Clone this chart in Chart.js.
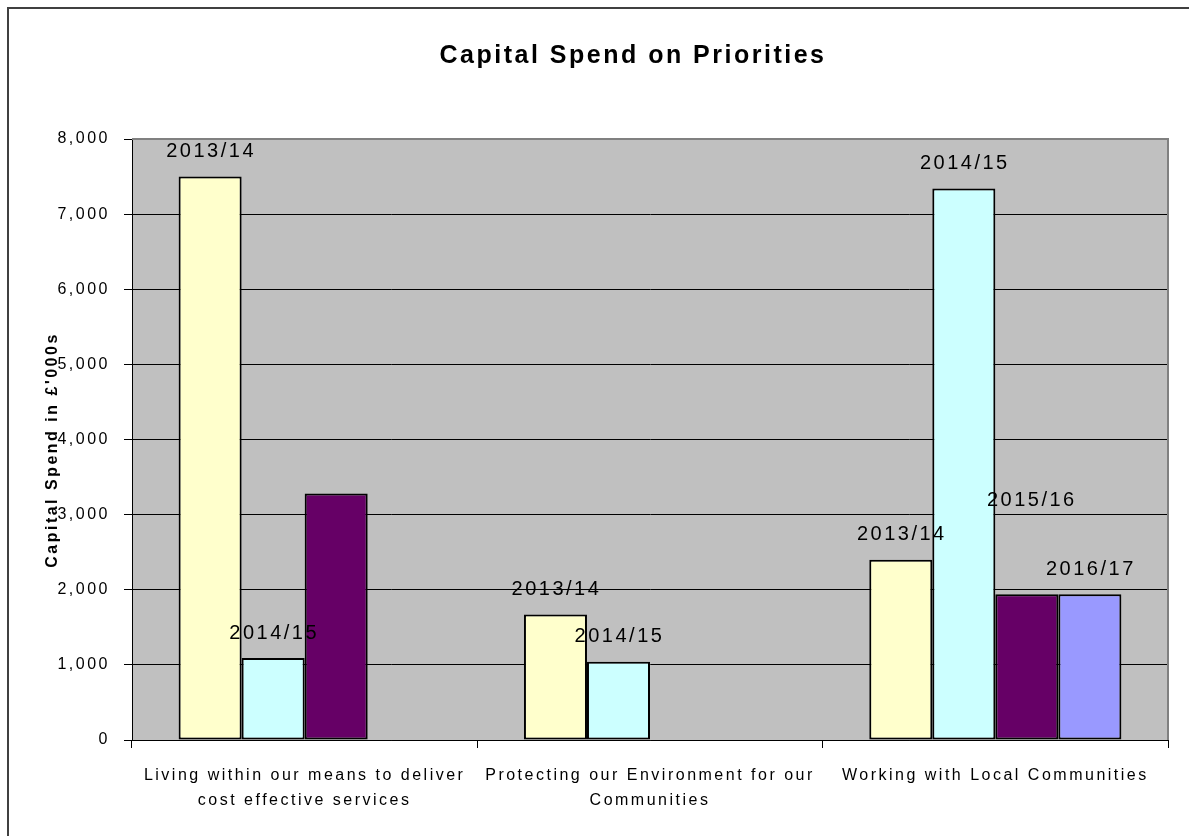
<!DOCTYPE html>
<html><head><meta charset="utf-8">
<script src="https://cdn.jsdelivr.net/npm/chart.js@4.4.1/dist/chart.umd.min.js"></script>
<style>html,body{margin:0;padding:0;background:#fff;overflow:hidden}</style>
</head><body>
<canvas id="c" width="1189" height="836" style="display:block;width:1189px;height:836px"></canvas>
<script>
// ---- data ----
const categories = [
  ['Living within our means to deliver', 'cost effective services'],
  ['Protecting our Environment for our', 'Communities'],
  ['Working with Local Communities']
];
const seriesNames = ['2013/14', '2014/15', '2015/16', '2016/17'];
const spend201314 = [7500, 1670, 2400];
const spend201415 = [1090, 1040, 7340];
const spend201516 = [3280, null, 1940];
const spend201617 = [null, null, 1940];
const yTickValues = [0, 1000, 2000, 3000, 4000, 5000, 6000, 7000, 8000];
const chartTitle = 'Capital Spend on Priorities';
const yAxisTitle = "Capital Spend in £'000s";

// ---- style ----
const FONT = "'Liberation Sans', Arial, sans-serif";
const colors = ['#FFFFCC', '#CCFFFF', '#660066', '#9999FF'];
const seriesValues = [spend201314, spend201415, spend201516, spend201617];

const excelPlugin = {
  id: 'excelLook',
  beforeDraw(chart) {
    const ctx = chart.ctx;
    ctx.letterSpacing = '2.5px';
    const a = chart.chartArea;
    ctx.save();
    ctx.fillStyle = '#C0C0C0';
    ctx.fillRect(a.left, a.top, a.right - a.left, a.bottom - a.top);
    ctx.restore();
  },
  afterDatasetsDraw(chart, args, opts) {
    const ctx = chart.ctx;
    const a = chart.chartArea;
    // plot-area border (top / right)
    ctx.save();
    ctx.strokeStyle = '#808080';
    ctx.lineWidth = 2;
    ctx.beginPath();
    ctx.moveTo(a.left, a.top);
    ctx.lineTo(a.right, a.top);
    ctx.lineTo(a.right, a.bottom);
    ctx.stroke();
    ctx.restore();
    // data labels (series names)
    ctx.save();
    ctx.font = '20px ' + FONT;
    ctx.fillStyle = '#000';
    ctx.textAlign = 'center';
    ctx.textBaseline = 'middle';
    chart.data.datasets.forEach((ds, di) => {
      const meta = chart.getDatasetMeta(di);
      meta.data.forEach((el, i) => {
        const v = ds.data[i];
        if (v === null || v === undefined) return;
        const key = di + '-' + i;
        if (opts.hidden.includes(key)) return;
        const off = opts.offsets[key] || [0, 0];
        ctx.fillText(ds.label, el.x + 1 + off[0], el.y - 25 + off[1]);
      });
    });
    ctx.restore();
  },
  afterDraw(chart, args, opts) {
    const ctx = chart.ctx;
    ctx.save();
    // chart title
    ctx.fillStyle = '#000';
    ctx.font = 'bold 25px ' + FONT;
    ctx.textAlign = 'center';
    ctx.textBaseline = 'alphabetic';
    ctx.fillText(chartTitle, 633, 63);
    // y-axis title
    ctx.font = 'bold 16px ' + FONT;
    ctx.translate(57, 450);
    ctx.rotate(-Math.PI / 2);
    ctx.fillText(yAxisTitle, 0, 0);
    ctx.restore();
    // outer chart border
    ctx.save();
    ctx.strokeStyle = '#404040';
    ctx.lineWidth = 2;
    ctx.beginPath();
    ctx.moveTo(8, 840);
    ctx.lineTo(8, 8);
    ctx.lineTo(1195, 8);
    ctx.stroke();
    ctx.restore();
  }
};

new Chart(document.getElementById('c'), {
  type: 'bar',
  data: {
    labels: categories,
    datasets: seriesNames.map((name, i) => ({
      label: name,
      data: seriesValues[i],
      backgroundColor: colors[i],
      borderColor: '#000',
      borderWidth: 2,
      borderSkipped: false,
      categoryPercentage: 0.73,
      barPercentage: 1.0
    }))
  },
  options: {
    responsive: false,
    animation: false,
    devicePixelRatio: 1,
    layout: { padding: { left: 0, right: 21, top: 139, bottom: 0 } },
    plugins: {
      legend: { display: false },
      title: { display: false },
      tooltip: { enabled: false },
      excelLook: {
        hidden: ['2-0'],
        offsets: { '2-2': [4, -69] }
      }
    },
    scales: {
      x: {
        offset: true,
        grid: { display: true, drawOnChartArea: false, drawTicks: true, tickLength: 8, color: '#000', offset: true },
        border: { display: true, color: '#000', width: 1 },
        ticks: {
          autoSkip: false, maxRotation: 0, minRotation: 0,
          color: '#000', padding: 15,
          font: { family: FONT, size: 16, lineHeight: 1.55 }
        },
        afterFit(scale) { scale.height = 96; }
      },
      y: {
        min: 0, max: 8000,
        afterBuildTicks(scale) { scale.ticks = yTickValues.map(v => ({ value: v })); },
        grid: { color: '#000', lineWidth: 1, drawTicks: true, tickLength: 8 },
        border: { display: true, color: '#000', width: 1 },
        ticks: {
          color: '#000', padding: 14,
          font: { family: FONT, size: 16 },
          callback: v => v.toLocaleString('en-US')
        },
        afterFit(scale) { scale.width = 132; }
      }
    }
  },
  plugins: [excelPlugin]
});
</script>
</body></html>
